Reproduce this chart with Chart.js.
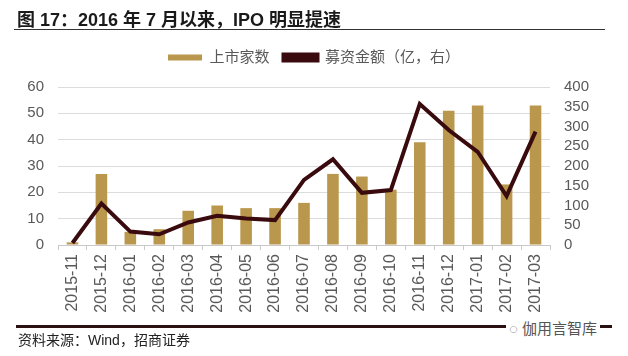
<!DOCTYPE html>
<html>
<head>
<meta charset="utf-8">
<script src="https://cdn.jsdelivr.net/npm/chart.js@4/dist/chart.umd.min.js"></script>
<style>
  html, body { margin: 0; padding: 0; background: #fff; }
  #wrap { position: relative; width: 628px; height: 356px; overflow: hidden; font-family: "Liberation Sans", "Noto Sans CJK SC", sans-serif; }
  #c { position: absolute; left: 0; top: 0; }
  #title { position: absolute; left: 17px; top: 5px; font-size: 18px; font-weight: bold; color: #1a1a1a; white-space: nowrap; }
  #rule1 { position: absolute; left: 14px; top: 29px; width: 591px; height: 1px; background: #333; }
  #rule2 { position: absolute; left: 16px; top: 325px; width: 596px; height: 3px; background: #2b1012; }
  #src { position: absolute; left: 18px; top: 329px; font-size: 14px; color: #222; white-space: nowrap; }
  #wm { position: absolute; left: 506px; top: 317px; font-size: 15px; color: #555; background: #fff; padding: 0 3px; white-space: nowrap; }
</style>
</head>
<body>
<div id="wrap">
  <canvas id="c" width="628" height="356"></canvas>
  <div id="title">图 17：2016 年 7 月以来，IPO 明显提速</div>
  <div id="rule1"></div>
  <div id="rule2"></div>
  <div id="src">资料来源：Wind，招商证券</div>
  <div id="wm">◌ 伽用言智库</div>
</div>
<script>
const categories = ["2015-11","2015-12","2016-01","2016-02","2016-03","2016-04","2016-05","2016-06","2016-07","2016-08","2016-09","2016-10","2016-11","2016-12","2017-01","2017-02","2017-03"];
const listingCount = [1, 27, 5, 6, 13, 15, 14, 14, 16, 27, 26, 21, 39, 51, 53, 23, 53];
const fundsRaised = [5, 105, 34, 27, 57, 74, 67, 63, 165, 217, 132, 139, 357, 291, 236, 124, 287];
const leftTicks = { min: 0, max: 60, step: 10 };
const rightTicks = { min: 0, max: 400, step: 50 };
const seriesNames = ["上市家数", "募资金额（亿，右）"];

const FONT = '"Liberation Sans", "Noto Sans CJK SC", sans-serif';
const GOLD = '#B9974C';
const MAROON = '#3A0B0E';

const fixLegend = {
  id: 'fixLegend',
  beforeLayout(chart) {
    const lg = chart.legend;
    if (lg && !lg._patched) {
      const orig = lg.fit.bind(lg);
      lg.fit = function() { orig(); this.height = 51; };
      lg._patched = true;
    }
  }
};

new Chart(document.getElementById('c'), {
  data: {
    labels: categories,
    datasets: [
      {
        type: 'line',
        label: seriesNames[1],
        data: fundsRaised,
        yAxisID: 'y2',
        borderColor: MAROON,
        backgroundColor: MAROON,
        borderWidth: 4,
        pointRadius: 0,
        tension: 0,
        borderJoinStyle: 'miter'
      },
      {
        type: 'bar',
        label: seriesNames[0],
        data: listingCount,
        yAxisID: 'y',
        backgroundColor: GOLD,
        borderWidth: 0,
        barPercentage: 0.4,
        categoryPercentage: 1.0
      }
    ]
  },
  options: {
    responsive: false,
    animation: false,
    layout: { padding: { top: 36, left: 0, right: 0, bottom: 0 } },
    plugins: {
      tooltip: { enabled: false },
      legend: {
        position: 'top',
        reverse: true,
        labels: {
          boxWidth: 34,
          boxHeight: 6,
          padding: 14,
          color: '#595959',
          font: { family: FONT, size: 15 }
        }
      }
    },
    scales: {
      x: {
        offset: true,
        grid: { display: true, drawOnChartArea: false, offset: true, tickLength: 5, color: '#c8c8c8' },
        border: { display: true, color: '#c8c8c8' },
        ticks: { minRotation: 90, maxRotation: 90, autoSkip: false, color: '#595959', padding: 4, font: { family: FONT, size: 16 } },
        afterFit(s) { s.height = 111; }
      },
      y: {
        position: 'left',
        min: leftTicks.min, max: leftTicks.max,
        ticks: { stepSize: leftTicks.step, autoSkip: false, color: '#595959', padding: 14, font: { family: FONT, size: 15 } },
        grid: { color: '#dcdcdc', drawTicks: false },
        border: { display: false },
        afterFit(s) { s.width = 58; }
      },
      y2: {
        position: 'right',
        min: rightTicks.min, max: rightTicks.max,
        ticks: { stepSize: rightTicks.step, autoSkip: false, color: '#595959', padding: 14, font: { family: FONT, size: 15 } },
        grid: { display: false, drawTicks: false },
        border: { display: false },
        afterFit(s) { s.width = 78; }
      }
    }
  },
  plugins: [fixLegend]
});
</script>
</body>
</html>
